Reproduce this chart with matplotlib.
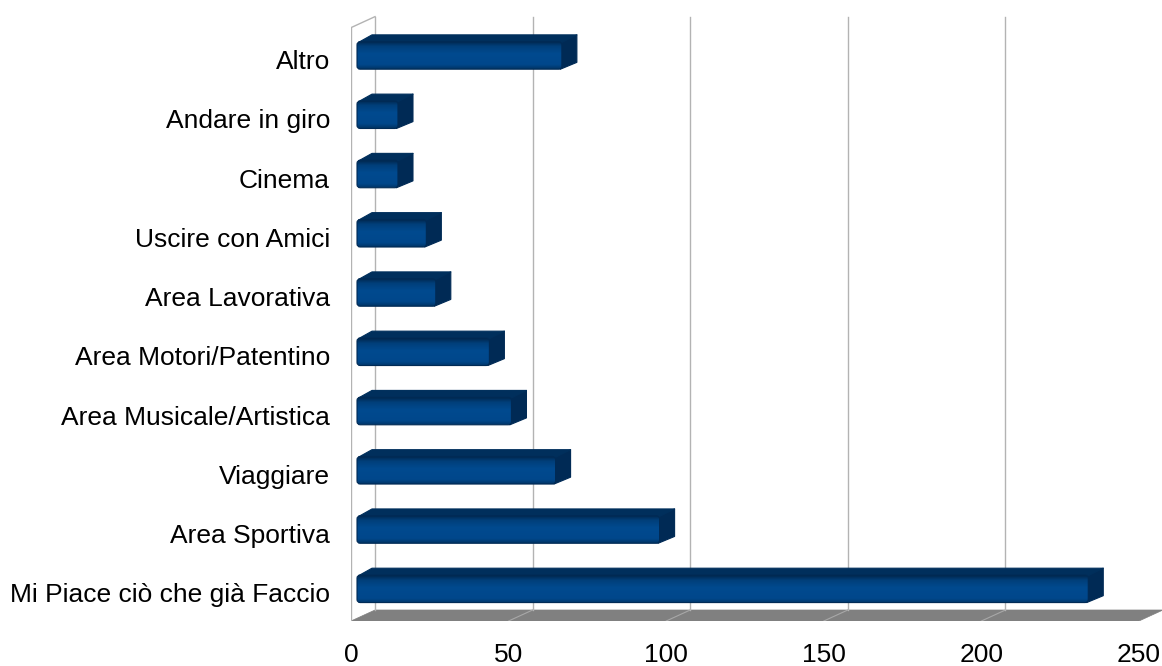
import numpy as np
import matplotlib.pyplot as plt
from matplotlib.patches import Polygon, FancyBboxPatch
from matplotlib.colors import LinearSegmentedColormap

# Data (bottom to top)
categories = ['Mi Piace ciò che già Faccio', 'Area Sportiva', 'Viaggiare',
              'Area Musicale/Artistica', 'Area Motori/Patentino', 'Area Lavorativa',
              'Uscire con Amici', 'Cinema', 'Andare in giro', 'Altro']
values = [232, 96, 63, 49, 42, 25, 22, 13, 13, 65]
xticks = [0, 50, 100, 150, 200, 250]

plt.rcParams['font.family'] = ['Liberation Sans', 'DejaVu Sans']

W, H = 1162, 666
fig = plt.figure(figsize=(W / 100, H / 100), dpi=100)
ax = fig.add_axes([351 / W, 45 / H, 811 / W, 606 / H])
px_x = 3.152          # pixels per value unit
px_y = 59.26          # pixels per category step
ax.set_xlim(0, 811 / px_x)
ax.set_ylim(-0.543, -0.543 + 606 / px_y)
ax.axis('off')

# depth of the 3d box in data units
dx = 24 / px_x
dy = 11 / px_y
y0 = -0.543
ytop = 9.47
xmax = 250

grid_c = '#b3b3b3'

# floor
floor = Polygon([(0, y0), (xmax, y0), (xmax + dx, y0 + dy), (dx, y0 + dy)],
                closed=True, facecolor='#808080', edgecolor='#808080', lw=0.5, zorder=1)
ax.add_patch(floor)
for t in xticks[1:-1]:
    ax.plot([t, t + dx], [y0, y0 + dy], color='#a8a8a8', lw=0.8, zorder=2)

# left wall
ax.plot([0, 0], [y0, ytop], color=grid_c, lw=1, zorder=2)
ax.plot([0, dx], [ytop, ytop + dy], color=grid_c, lw=1, zorder=2)
ax.plot([dx, dx], [y0 + dy, ytop + dy], color=grid_c, lw=1, zorder=2)

# back wall grid
for t in xticks[1:-1]:
    ax.plot([t + dx, t + dx], [y0 + dy, ytop + dy], color=grid_c, lw=1, zorder=2)

# bars
bh = 27.5 / px_y
f1 = 0.25
f2 = 0.875
fx = f1 * dx
ddx = (f2 - f1) * dx
ddy = (f2 - f1) * dy
cmap = LinearSegmentedColormap.from_list(
    'bar', [(0, '#00264c'), (0.18, '#003f7a'), (0.45, '#004a8f'),
            (0.85, '#00478b'), (1.0, '#003566')])
grad = np.linspace(0, 1, 64).reshape(-1, 1)

for i, v in enumerate(values):
    top = i + bh / 2
    bot = i - bh / 2
    side = Polygon([(fx + v - 0.5, bot), (fx + v + ddx, bot + ddy),
                    (fx + v + ddx, top + ddy), (fx + v - 0.5, top)],
                   closed=True, facecolor='#002a55', edgecolor='#002a55',
                   lw=0.8, joinstyle='round', zorder=4)
    ax.add_patch(side)
    lid = Polygon([(fx + 0.5, top - 0.01), (fx + v, top - 0.01),
                   (fx + v + ddx, top + ddy), (fx + ddx, top + ddy)],
                  closed=True, facecolor='#002f5c', edgecolor='#002f5c',
                  lw=0.8, joinstyle='round', zorder=4)
    ax.add_patch(lid)
    face = FancyBboxPatch((fx, bot), v, bh,
                          boxstyle='round,pad=0,rounding_size=1.0',
                          mutation_aspect=px_x / px_y,
                          facecolor='none', edgecolor='#002a55', lw=0.8, zorder=6)
    ax.add_patch(face)
    im = ax.imshow(grad, cmap=cmap, aspect='auto', extent=(fx, fx + v, bot, top),
                   zorder=5, interpolation='bilinear')
    im.set_clip_path(face)

# restore limits after imshow
ax.set_xlim(0, 811 / px_x)
ax.set_ylim(-0.543, -0.543 + 606 / px_y)

# category labels
for i, name in enumerate(categories):
    ax.text(-21 / px_x, i - 13.5 / px_y, name, ha='right', va='baseline',
            fontsize=19, color='#000000', clip_on=False)

# value labels
for t in xticks:
    ax.text(t, y0 - 41 / px_y, str(t), ha='center', va='baseline',
            fontsize=19, color='#000000', clip_on=False)

fig.savefig('out.png', dpi=100)
